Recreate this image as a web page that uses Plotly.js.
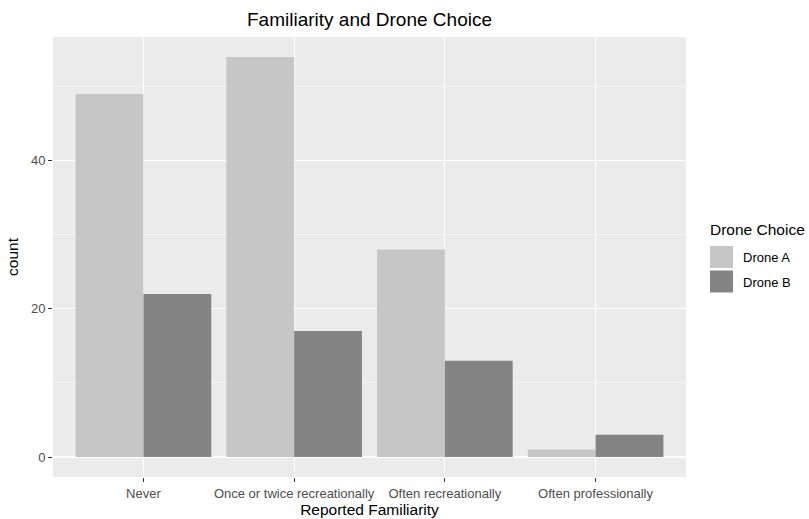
<!DOCTYPE html>
<html>
<head>
<meta charset="utf-8">
<script src="https://cdn.plot.ly/plotly-3.0.1.min.js"></script>
<style>html,body{margin:0;padding:0;background:#fff;}#chart{width:809px;height:519px;}</style>
</head>
<body>
<div id="chart"></div>
<script>
const categories = ["Never", "Once or twice recreationally", "Often recreationally", "Often professionally"];
const seriesNames = ["Drone A", "Drone B"];
const seriesColors = ["#c6c6c6", "#848484"];
const droneA = [49, 54, 28, 1];
const droneB = [22, 17, 13, 3];
const yTicks = [0, 20, 40];
const legendTitle = "Drone Choice";

const traces = [
  {type: "bar", name: seriesNames[0], x: categories, y: droneA, marker: {color: seriesColors[0]}},
  {type: "bar", name: seriesNames[1], x: categories, y: droneB, marker: {color: seriesColors[1]}}
];

// plot area in pixels: x 53..686, y 37..477
const W = 809, H = 519, L = 53, R = 123, T = 37, B = 42;
const pw = W - L - R, ph = H - T - B;
const px = v => (v - L) / pw;
const py = v => (H - B - v) / ph;

const shapes = [];
const annotations = [];
annotations.push({xref: "paper", yref: "paper", x: px(708), y: py(229), xanchor: "left", yanchor: "middle",
  text: legendTitle, showarrow: false, font: {size: 15.5, color: "#000000"}});
seriesNames.forEach((n, i) => {
  const top = 246 + i * 24.5;
  shapes.push({type: "rect", xref: "paper", yref: "paper", x0: px(710), x1: px(733), y0: py(top), y1: py(top + 22),
    fillcolor: seriesColors[i], line: {width: 0}});
  annotations.push({xref: "paper", yref: "paper", x: px(741), y: py(top + 11.5), xanchor: "left", yanchor: "middle",
    text: n, showarrow: false, font: {size: 13, color: "#000000"}});
});

const layout = {
  width: W, height: H,
  margin: {l: L, r: R, t: T, b: B},
  paper_bgcolor: "#ffffff",
  plot_bgcolor: "#ebebeb",
  font: {family: "Liberation Sans, Arial, sans-serif", color: "#000000"},
  barmode: "group",
  bargap: 0.1,
  bargroupgap: 0,
  showlegend: false,
  title: {text: "Familiarity and Drone Choice", font: {size: 19, color: "#000000"}, x: 0.5, xref: "paper", y: 0.963, yanchor: "middle"},
  xaxis: {
    type: "category",
    range: [-0.6, 3.6],
    showgrid: true, gridcolor: "#ffffff", gridwidth: 1.1,
    zeroline: false, showline: false,
    ticks: "outside", ticklen: 4, tickcolor: "#333333", tickwidth: 1,
    tickfont: {size: 13, color: "#4d4d4d"},
    title: {text: "Reported Familiarity", font: {size: 15.5, color: "#000000"}, standoff: 4}
  },
  yaxis: {
    range: [-2.7, 56.7],
    tickvals: yTicks,
    showgrid: true, gridcolor: "#ffffff", gridwidth: 1.1,
    minor: {tickvals: [10, 30, 50], showgrid: true, gridcolor: "#ffffff", gridwidth: 0.5, ticks: ""},
    zeroline: false, showline: false,
    ticks: "outside", ticklen: 4, tickcolor: "#333333", tickwidth: 1,
    tickfont: {size: 13, color: "#4d4d4d"},
    title: {text: "count", font: {size: 15.5, color: "#000000"}, standoff: 8}
  },
  shapes: shapes,
  annotations: annotations
};

Plotly.newPlot("chart", traces, layout, {displayModeBar: false, staticPlot: true});
</script>
</body>
</html>
